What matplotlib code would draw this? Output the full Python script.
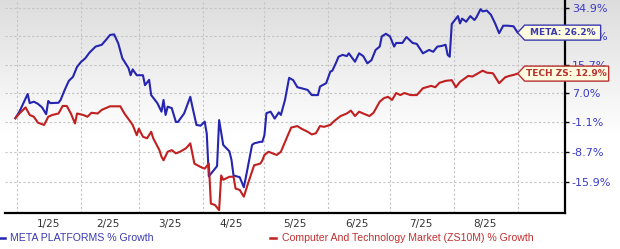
import numpy as np
import pandas as pd
import matplotlib
matplotlib.use("Agg")
import matplotlib.pyplot as plt
import matplotlib.dates as mdates
import matplotlib.transforms as mtransforms
from matplotlib.patches import Polygon
from matplotlib.lines import Line2D

# META PLATFORMS % growth
meta_dates = [
    "2024-12-31", "2025-01-02", "2025-01-06", "2025-01-07", "2025-01-09", "2025-01-11",
    "2025-01-13", "2025-01-15", "2025-01-16", "2025-01-17", "2025-01-21", "2025-01-22",
    "2025-01-24", "2025-01-26", "2025-01-28", "2025-01-30", "2025-02-01", "2025-02-03",
    "2025-02-05", "2025-02-08", "2025-02-11", "2025-02-13", "2025-02-15", "2025-02-17",
    "2025-02-19", "2025-02-21", "2025-02-24", "2025-02-25", "2025-02-26", "2025-02-28",
    "2025-03-03", "2025-03-04", "2025-03-06", "2025-03-07", "2025-03-10", "2025-03-12",
    "2025-03-13", "2025-03-14", "2025-03-15", "2025-03-17", "2025-03-19", "2025-03-20",
    "2025-03-23", "2025-03-26", "2025-03-27", "2025-03-29", "2025-03-31", "2025-04-02",
    "2025-04-03", "2025-04-04", "2025-04-07", "2025-04-08", "2025-04-09", "2025-04-11",
    "2025-04-14", "2025-04-15", "2025-04-16", "2025-04-19", "2025-04-21", "2025-04-22",
    "2025-04-25", "2025-04-26", "2025-04-29", "2025-04-30", "2025-05-01", "2025-05-02",
    "2025-05-04", "2025-05-06", "2025-05-08", "2025-05-09", "2025-05-11", "2025-05-13",
    "2025-05-15", "2025-05-17", "2025-05-19", "2025-05-22", "2025-05-24", "2025-05-27",
    "2025-05-28", "2025-05-31", "2025-06-02", "2025-06-03", "2025-06-05", "2025-06-06",
    "2025-06-08", "2025-06-10", "2025-06-11", "2025-06-14", "2025-06-16", "2025-06-18",
    "2025-06-20", "2025-06-22", "2025-06-24", "2025-06-26", "2025-06-27", "2025-06-29",
    "2025-07-01", "2025-07-03", "2025-07-04", "2025-07-07", "2025-07-09", "2025-07-12",
    "2025-07-14", "2025-07-17", "2025-07-20", "2025-07-22", "2025-07-24", "2025-07-26",
    "2025-07-28", "2025-07-29", "2025-07-30", "2025-07-31", "2025-08-03", "2025-08-04",
    "2025-08-05", "2025-08-07", "2025-08-09", "2025-08-11", "2025-08-12", "2025-08-14",
    "2025-08-15", "2025-08-17", "2025-08-19", "2025-08-21", "2025-08-23", "2025-08-25",
    "2025-08-27", "2025-08-30", "2025-09-01",
]
meta_growth = [
    0.0, 1.8, 6.8, 4.2, 4.6, 4.0,
    3.0, 1.1, 4.8, 4.2, 4.3, 5.1,
    8.0, 10.7, 11.9, 15.0, 16.6, 17.7,
    19.5, 21.5, 22.1, 23.7, 25.4, 25.6,
    22.6, 17.7, 14.6, 12.4, 14.2, 12.4,
    12.4, 9.4, 11.0, 6.5, 4.2, 1.8,
    5.1, 0.9, 3.2, 2.8, -1.0, -1.0,
    1.3, 6.0, 3.2, -1.8, -2.0, -0.9,
    -4.1, -14.6, -12.8, -12.2, -0.5, -7.0,
    -8.6, -10.7, -14.4, -14.8, -17.1, -14.8,
    -7.0, -6.6, -6.2, -6.2, -4.5, 1.4,
    1.8, -0.1, 1.6, 0.9, 5.1, 11.6,
    10.9, 8.8, 8.5, 8.0, 6.5, 6.5,
    9.0, 10.0, 13.5, 13.8, 16.6, 18.2,
    18.8, 18.4, 19.3, 16.6, 19.3, 18.4,
    16.1, 17.1, 20.4, 21.5, 24.9, 25.8,
    24.9, 21.5, 22.7, 22.7, 24.7, 22.7,
    22.4, 19.3, 20.4, 19.8, 21.5, 21.7,
    22.1, 18.8, 18.2, 29.2, 32.0, 29.4,
    31.1, 30.0, 32.0, 30.6, 31.6, 34.5,
    33.7, 34.0, 32.5, 29.5, 26.0, 28.6,
    28.6, 28.4, 26.2,
]

# Computer And Technology Market (ZS10M) % growth
tech_dates = [
    "2024-12-31", "2025-01-02", "2025-01-05", "2025-01-07", "2025-01-09", "2025-01-11",
    "2025-01-14", "2025-01-16", "2025-01-18", "2025-01-21", "2025-01-23", "2025-01-25",
    "2025-01-27", "2025-01-29", "2025-01-30", "2025-02-02", "2025-02-04", "2025-02-06",
    "2025-02-09", "2025-02-11", "2025-02-15", "2025-02-20", "2025-02-22", "2025-02-25",
    "2025-02-26", "2025-02-28", "2025-03-01", "2025-03-03", "2025-03-05", "2025-03-07",
    "2025-03-08", "2025-03-11", "2025-03-12", "2025-03-13", "2025-03-15", "2025-03-17",
    "2025-03-19", "2025-03-21", "2025-03-24", "2025-03-26", "2025-03-28", "2025-03-31",
    "2025-04-02", "2025-04-04", "2025-04-05", "2025-04-07", "2025-04-09", "2025-04-10",
    "2025-04-11", "2025-04-14", "2025-04-16", "2025-04-17", "2025-04-19", "2025-04-21",
    "2025-04-23", "2025-04-26", "2025-04-29", "2025-04-30", "2025-05-01", "2025-05-03",
    "2025-05-05", "2025-05-07", "2025-05-09", "2025-05-12", "2025-05-14", "2025-05-17",
    "2025-05-19", "2025-05-22", "2025-05-24", "2025-05-26", "2025-05-28", "2025-05-30",
    "2025-06-02", "2025-06-04", "2025-06-07", "2025-06-10", "2025-06-12", "2025-06-14",
    "2025-06-16", "2025-06-18", "2025-06-21", "2025-06-23", "2025-06-26", "2025-06-28",
    "2025-06-30", "2025-07-02", "2025-07-04", "2025-07-06", "2025-07-08", "2025-07-11",
    "2025-07-14", "2025-07-17", "2025-07-21", "2025-07-23", "2025-07-25", "2025-07-28",
    "2025-07-31", "2025-08-02", "2025-08-04", "2025-08-08", "2025-08-10", "2025-08-15",
    "2025-08-17", "2025-08-20", "2025-08-23", "2025-08-26", "2025-08-28", "2025-08-30",
    "2025-09-01",
]
tech_growth = [
    0.0, 1.3, 3.0, 0.9, 0.4, -1.2,
    -1.8, 0.4, 0.9, 1.3, 3.4, 3.4,
    1.3, -1.4, 1.3, 0.9, 0.4, 1.5,
    1.3, 2.3, 3.3, 3.3, 1.3, -1.0,
    -1.8, -4.5, -2.8, -4.9, -5.3, -3.6,
    -5.3, -8.3, -9.9, -10.8, -8.7, -8.3,
    -9.1, -8.7, -7.8, -6.6, -11.6, -12.4,
    -12.8, -11.6, -20.7, -21.0, -22.1, -14.4,
    -15.4, -14.7, -14.7, -17.4, -17.7, -19.2,
    -16.3, -12.0, -11.6, -10.8, -9.5, -8.7,
    -9.1, -9.5, -8.7, -5.0, -2.5, -2.1,
    -2.8, -3.6, -4.3, -4.0, -2.1, -2.3,
    -1.8, -0.7, 0.6, 1.3, 2.1, 0.6,
    1.8, 1.3, 0.6, 1.5, 4.6, 5.6,
    6.0, 5.1, 7.1, 6.5, 7.1, 6.5,
    6.5, 8.5, 9.2, 8.8, 10.1, 10.7,
    10.9, 8.8, 10.4, 12.2, 12.0, 13.8,
    13.2, 13.0, 10.0, 11.8, 12.2, 12.5,
    12.9,
]

y_ticks = [34.9, 24.9, 15.7, 7.0, -1.1, -8.7, -15.9]
month_starts = ["2025-01-01", "2025-02-01", "2025-03-01", "2025-04-01", "2025-05-01",
                "2025-06-01", "2025-07-01", "2025-08-01", "2025-09-01"]
month_mids = ["2025-01-16", "2025-02-14", "2025-03-16", "2025-04-15", "2025-05-16",
              "2025-06-15", "2025-07-16", "2025-08-16"]
month_labels = ["1/25", "2/25", "3/25", "4/25", "5/25", "6/25", "7/25", "8/25"]

BLUE = "#2525b0"
RED = "#c02020"

plt.rcParams['font.family'] = ['DejaVu Sans']

fig = plt.figure(figsize=(6.2, 2.49), dpi=100)
fig.patch.set_facecolor("white")

# grey-to-white background gradient
bg = fig.add_axes([0, 0, 1, 1], zorder=-10)
rows = np.clip(np.linspace(0, 1, 249) / 0.55, 0, 1)
shade = 0.865 + (1.0 - 0.865) * rows
grad = np.repeat(shade[:, None], 10, axis=1)
bg.imshow(np.dstack([grad, grad, grad]), aspect="auto", extent=[0, 1, 0, 1])
bg.axis("off")

ax = fig.add_axes([5 / 620, 36 / 249, 560 / 620, 213 / 249])
ax.set_facecolor("none")

fwd = lambda v: np.log1p(np.asarray(v, dtype=float) / 100.0)
inv = lambda t: np.expm1(np.asarray(t, dtype=float)) * 100.0
ax.set_yscale("function", functions=(fwd, inv))

md = pd.to_datetime(meta_dates)
td = pd.to_datetime(tech_dates)
ax.plot(md, meta_growth, color=BLUE, lw=1.5, zorder=3)
ax.plot(td, tech_growth, color=RED, lw=1.5, zorder=3)

ax.set_xlim(pd.Timestamp("2024-12-26"), pd.Timestamp("2025-09-24"))
ax.set_ylim(-22.7, 37.9)

ax.set_xticks(pd.to_datetime(month_starts))
ax.set_xticklabels([])
ax.set_xticks(pd.to_datetime(month_mids), minor=True)
ax.set_xticklabels(month_labels, minor=True)
ax.tick_params(axis="x", which="both", length=0, pad=4, labelsize=7.5, labelcolor="#333333")

ax.yaxis.tick_right()
ax.set_yticks(y_ticks)
ax.set_yticklabels([f"{v:.1f}%" for v in y_ticks])
ax.yaxis.set_minor_locator(matplotlib.ticker.NullLocator())
ax.tick_params(axis="y", which="major", direction="out", length=3, width=1,
               pad=2, labelsize=8, labelcolor="#3a3ac8", color="black")

ax.grid(True, which="major", color="#c4c4c4", linestyle=(0, (2, 2)), linewidth=0.8)
for side in ("left", "top"):
    ax.spines[side].set_visible(False)
for side in ("right", "bottom"):
    ax.spines[side].set_color("black")
    ax.spines[side].set_linewidth(1.6)


def tag(x, y, text, color, width):
    xn = mdates.date2num(pd.Timestamp(x))
    x0, y0 = ax.transData.transform((xn, y))
    h = 7.5
    verts = [(x0, y0), (x0 + 7, y0 + h), (x0 + width, y0 + h),
             (x0 + width, y0 - h), (x0 + 7, y0 - h)]
    fig.patches.append(Polygon(verts, closed=True, facecolor="#fffde0", edgecolor=color,
                               linewidth=1.0, transform=mtransforms.IdentityTransform(),
                               figure=fig, zorder=20))
    fig.text((x0 + 7 + (width - 7) / 2) / fig.bbox.width, y0 / fig.bbox.height, text,
             ha="center", va="center", fontsize=6.5, fontweight="bold", color=color, zorder=21)


tag(meta_dates[-1], meta_growth[-1], f"META: {meta_growth[-1]:.1f}%", "#3a3ab0", 83)
tag(tech_dates[-1], tech_growth[-1], f"TECH ZS: {tech_growth[-1]:.1f}%", "#b83030", 91)

# legend below the chart
ly = (249 - 237.5) / 249
fig.lines.append(Line2D([0 / 620, 5 / 620], [ly, ly], color=BLUE, lw=1.8, transform=fig.transFigure))
fig.text(10 / 620, ly, "META PLATFORMS % Growth", color="#3a3ab0", fontsize=7.6,
         family="Liberation Sans", va="center", ha="left")
fig.lines.append(Line2D([270 / 620, 276 / 620], [ly, ly], color=RED, lw=1.8, transform=fig.transFigure))
fig.text(282 / 620, ly, "Computer And Technology Market (ZS10M) % Growth", color="#c03030",
         fontsize=7.6, family="Liberation Sans", va="center", ha="left")

fig.savefig("out.png", dpi=100)
